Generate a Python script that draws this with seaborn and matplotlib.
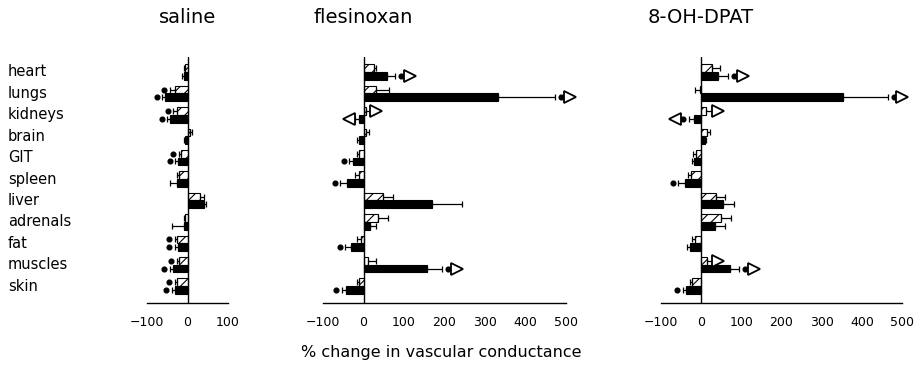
import numpy as np
import pandas as pd
import matplotlib
matplotlib.use("Agg")
import matplotlib.pyplot as plt
import matplotlib.transforms as mtransforms
import seaborn as sns

# ---------------- data ----------------
organs = ["heart", "lungs", "kidneys", "brain", "GIT", "spleen",
          "liver", "adrenals", "fat", "muscles", "skin"]
titles = ["saline", "flesinoxan", "8-OH-DPAT"]

saline_hatched = [-5, -30, -26, 5, -15, -20, 32, -5, -26, -22, -26]
saline_hatched_err = [4, 13, 9, 5, 6, 5, 8, 4, 5, 5, 5]
saline_black = [-8, -55, -43, -5, -24, -26, 40, -8, -24, -36, -31]
saline_black_err = [5, 7, 7, 3, 6, 17, 6, 30, 7, 7, 7]

fles_hatched = [25, 32, 5, 5, -12, -10, 49, 37, -5, 12, -12]
fles_hatched_err = [7, 32, 10, 8, 5, 10, 25, 23, 10, 18, 5]
fles_black = [57, 333, -12, -12, -25, -40, 168, 17, -30, 158, -44]
fles_black_err = [22, 141, 8, 4, 10, 17, 74, 15, 15, 37, 10]

dpat_hatched = [27, -3, 12, 15, -12, -25, 37, 50, -15, 15, -22]
dpat_hatched_err = [20, 12, 15, 7, 8, 8, 23, 25, 8, 12, 5]
dpat_black = [42, 352, -17, 10, -17, -40, 55, 35, -27, 72, -37]
dpat_black_err = [25, 113, 13, 3, 5, 17, 27, 25, 8, 23, 8]

# significance markers (dot = vs. baseline, triangle = vs. saline)
saline_dot_hatched = ["lungs", "kidneys", "GIT", "fat", "muscles", "skin"]
saline_dot_black = ["lungs", "kidneys", "GIT", "fat", "muscles", "skin"]
saline_tri_hatched = []
saline_tri_black = []

fles_dot_hatched = []
fles_dot_black = ["heart", "lungs", "GIT", "spleen", "fat", "muscles", "skin"]
fles_tri_hatched = ["kidneys"]
fles_tri_black = ["heart", "lungs", "kidneys", "muscles"]

dpat_dot_hatched = []
dpat_dot_black = ["heart", "lungs", "kidneys", "spleen", "muscles", "skin"]
dpat_tri_hatched = ["kidneys", "muscles"]
dpat_tri_black = ["heart", "lungs", "kidneys", "muscles"]

x_max = [100, 500, 500]

panels = [
    (saline_hatched, saline_hatched_err, saline_black, saline_black_err,
     saline_dot_hatched, saline_dot_black, saline_tri_hatched, saline_tri_black),
    (fles_hatched, fles_hatched_err, fles_black, fles_black_err,
     fles_dot_hatched, fles_dot_black, fles_tri_hatched, fles_tri_black),
    (dpat_hatched, dpat_hatched_err, dpat_black, dpat_black_err,
     dpat_dot_hatched, dpat_dot_black, dpat_tri_hatched, dpat_tri_black),
]

# ---------------- style / layout ----------------
sns.set_theme(style="white")
plt.rcParams["font.family"] = ["DejaVu Sans"]
plt.rcParams["hatch.linewidth"] = 0.8
plt.rcParams["text.color"] = "black"
plt.rcParams["xtick.color"] = "black"

W, H = 916, 372
fig = plt.figure(figsize=(W / 100, H / 100), dpi=100)
axes_px = [(147, 228), (323, 566), (661, 902)]
top_px, bot_px = 57, 303

for k, (x0, x1) in enumerate(axes_px):
    ax = fig.add_axes([x0 / W, 1 - bot_px / H, (x1 - x0) / W, (bot_px - top_px) / H])
    hv, he, bv, be, dh, db, th, tb = panels[k]
    df = pd.DataFrame({
        "organ": organs * 2,
        "series": ["hatched"] * len(organs) + ["filled"] * len(organs),
        "value": list(hv) + list(bv),
    })
    sns.barplot(data=df, y="organ", x="value", hue="series",
                hue_order=["hatched", "filled"], order=organs, orient="h",
                palette=["white", "black"], saturation=1, width=0.72,
                edgecolor="black", linewidth=0.8, errorbar=None,
                legend=False, ax=ax)
    for p in ax.containers[0]:
        p.set_hatch("///")
        p.set_facecolor("white")

    for cont, vals, errs, dots, tris in [(ax.containers[0], hv, he, dh, th),
                                         (ax.containers[1], bv, be, db, tb)]:
        for p, o, v, e in zip(cont, organs, vals, errs):
            y = p.get_y() + p.get_height() / 2
            s = 1 if v >= 0 else -1
            xerr = [[0], [e]] if s > 0 else [[e], [0]]
            ax.errorbar(v, y, xerr=xerr, fmt="none", ecolor="black",
                        elinewidth=0.9, capsize=2.5, capthick=0.9, zorder=3)
            end = v + s * e
            pos = end
            if o in dots:
                pos = end + s * 14
                ax.plot(pos, y, "o", color="black", ms=3.4, zorder=4,
                        clip_on=False)
            if o in tris:
                tpos = pos + s * (22 if o in dots else 16)
                ax.plot(tpos, y, ">" if s > 0 else "<", mfc="white",
                        mec="black", mew=1.3, ms=8, zorder=4, clip_on=False)

    ax.axvline(0, color="black", lw=1.0, zorder=5)
    ax.set_xlim(-100, x_max[k])
    ax.set_ylim(10.79, -0.70)
    ax.set_xticks(np.arange(-100, x_max[k] + 1, 100))
    ax.set_yticks([])
    ax.set_xlabel("")
    ax.set_ylabel("")
    for sp in ["left", "top", "right"]:
        ax.spines[sp].set_visible(False)
    ax.spines["bottom"].set_linewidth(1.0)
    ax.spines["bottom"].set_color("black")
    ax.tick_params(axis="x", direction="in", length=3, width=0.8, pad=9,
                   labelsize=9, colors="black")

    trans = mtransforms.blended_transform_factory(ax.transData, ax.transAxes)
    ax.text(0, 1 + (top_px - 17) / (bot_px - top_px), titles[k], transform=trans,
            ha="center", va="center", fontsize=14)

    if k == 0:
        for i, o in enumerate(organs):
            ax.text((8 - x0) / (x1 - x0), i, o, transform=ax.get_yaxis_transform(),
                    ha="left", va="center", fontsize=10.5)

fig.text(441 / W, 1 - 352 / H, "% change in vascular conductance",
         ha="center", va="center", fontsize=11.5)

fig.savefig("out.png", dpi=100, facecolor="white")
